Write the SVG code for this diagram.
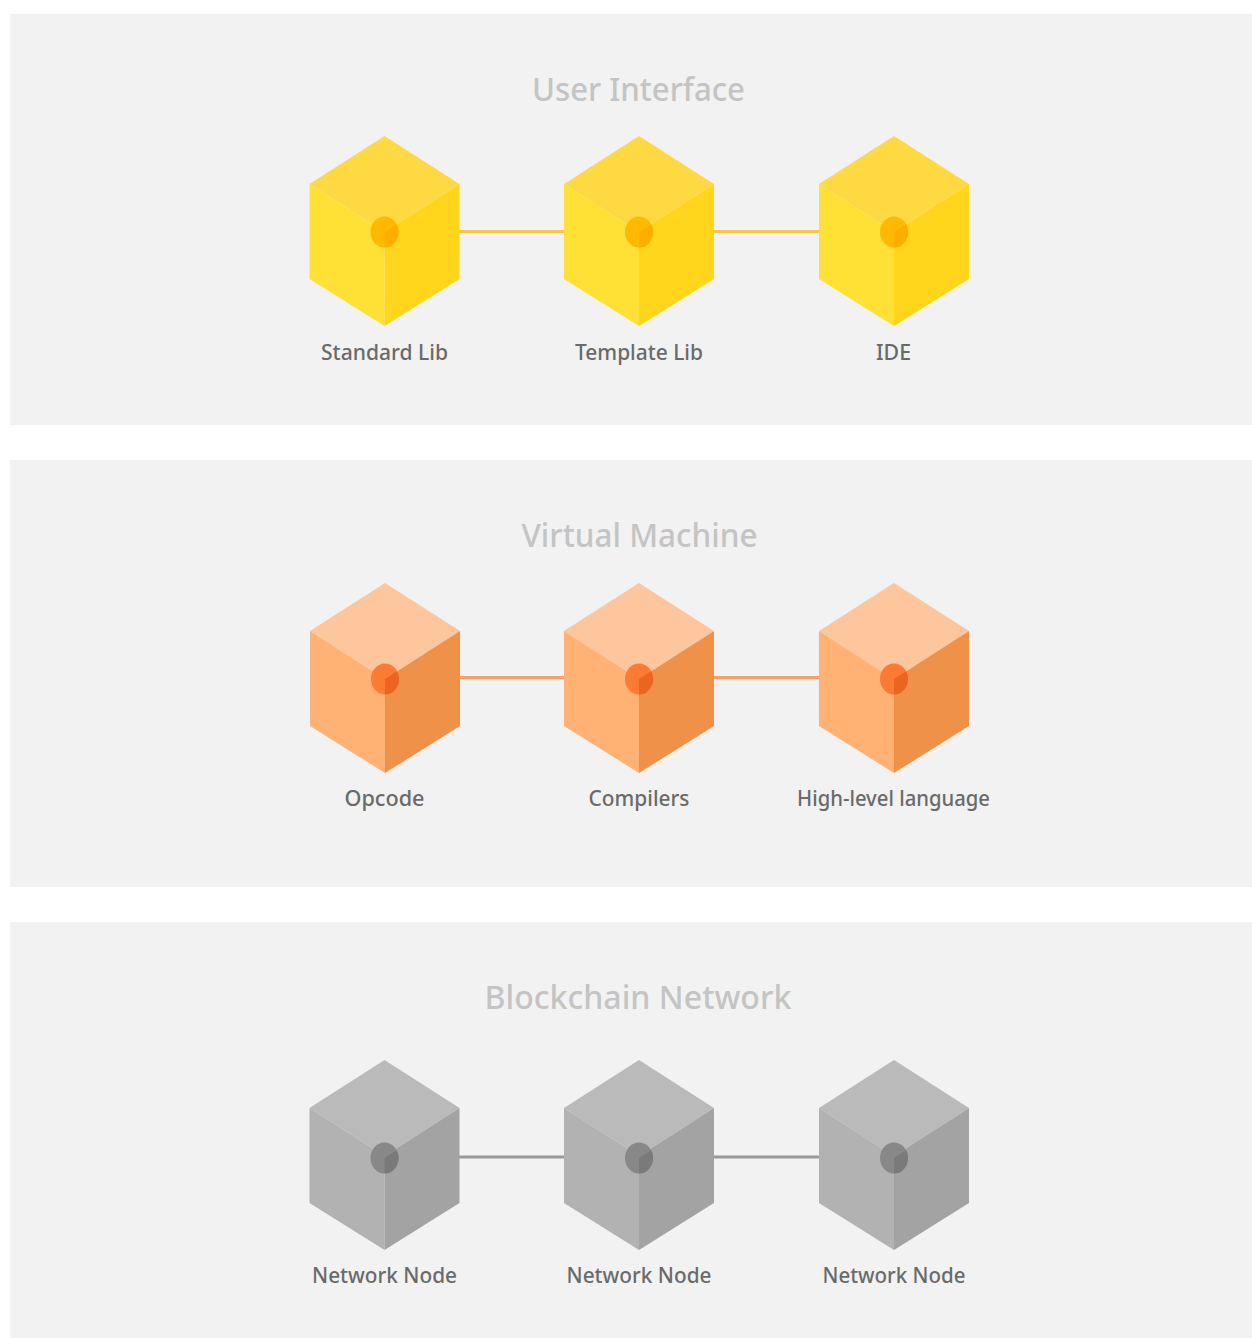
<svg xmlns="http://www.w3.org/2000/svg" width="1252" height="1338" viewBox="0 0 1252 1338">
<style>
.panel{fill:#f2f2f2}
text{font-family:"Noto Sans","Liberation Sans",sans-serif;text-anchor:middle}
.title{font-size:32px;fill:#c4c4c4;font-weight:500}
.label{font-size:21px;fill:#6a6a6a;font-weight:500}
.conn{fill:none;stroke-width:3}
.y .t{fill:#ffd942}.y .l{fill:#ffe135}.y .r{fill:#ffd61c}.y .c{fill:#ffb900}.y .w{fill:#ffae00}
.o .t{fill:#fec69d}.o .l{fill:#ffb274}.o .r{fill:#ef9149}.o .c{fill:#fd7a33}.o .w{fill:#ec6520}
.g .t{fill:#bababa}.g .l{fill:#b2b2b2}.g .r{fill:#a3a3a3}.g .c{fill:#888}.g .w{fill:#7a7a7a}
</style>
<defs>
<path id="ft" d="M0-96 75-48 0 0-75-48Z"/>
<path id="fl" d="M-75-48 0 0V94L-75 47Z"/>
<path id="fr" d="M75-48 0 0V94L75 47Z"/>
<ellipse id="dot" cx="0" cy="0" rx="14" ry="15.5"/>
<path id="wedge" d="M0 0V15.5A14 15.5 0 0 0 12.1-7.8Z"/>
</defs>
<rect class="panel" x="10" y="14" width="1242" height="411"/>
<rect class="panel" x="10" y="460" width="1242" height="427"/>
<rect class="panel" x="10" y="922" width="1242" height="416"/>
<text class="title" x="638.500" y="101" textLength="213" lengthAdjust="spacingAndGlyphs">User Interface</text>
<text class="title" x="639.500" y="547" textLength="236" lengthAdjust="spacingAndGlyphs">Virtual Machine</text>
<text class="title" x="638" y="1009" textLength="307" lengthAdjust="spacingAndGlyphs">Blockchain Network</text>
<g id="connectors">
<path class="conn" stroke="#f7c64a" d="M459 231.500H565M714 231.500H820"/>
<path class="conn" stroke="#f8a06c" d="M460 677.500H564M714 677.500H820"/>
<path class="conn" stroke="#9a9a9a" d="M459 1157H565M714 1157H820"/>
</g>
<g id="node-standard-lib" class="y"><g transform="translate(384.500 232)"><use href="#ft" class="t"/><use href="#fl" class="l"/><use href="#fr" class="r"/><use href="#dot" class="c"/><use href="#wedge" class="w"/></g><text class="label" x="384.500" y="360" textLength="127" lengthAdjust="spacingAndGlyphs">Standard Lib</text></g>
<g id="node-template-lib" class="y"><g transform="translate(639 232)"><use href="#ft" class="t"/><use href="#fl" class="l"/><use href="#fr" class="r"/><use href="#dot" class="c"/><use href="#wedge" class="w"/></g><text class="label" x="639" y="360" textLength="128" lengthAdjust="spacingAndGlyphs">Template Lib</text></g>
<g id="node-ide" class="y"><g transform="translate(894 232)"><use href="#ft" class="t"/><use href="#fl" class="l"/><use href="#fr" class="r"/><use href="#dot" class="c"/><use href="#wedge" class="w"/></g><text class="label" x="893.500" y="360" textLength="35" lengthAdjust="spacingAndGlyphs">IDE</text></g>
<g id="node-opcode" class="o"><g transform="translate(385 679)"><use href="#ft" class="t"/><use href="#fl" class="l"/><use href="#fr" class="r"/><use href="#dot" class="c"/><use href="#wedge" class="w"/></g><text class="label" x="384.500" y="806" textLength="80" lengthAdjust="spacingAndGlyphs">Opcode</text></g>
<g id="node-compilers" class="o"><g transform="translate(639 679)"><use href="#ft" class="t"/><use href="#fl" class="l"/><use href="#fr" class="r"/><use href="#dot" class="c"/><use href="#wedge" class="w"/></g><text class="label" x="639" y="806" textLength="101" lengthAdjust="spacingAndGlyphs">Compilers</text></g>
<g id="node-high-level-language" class="o"><g transform="translate(894 679)"><use href="#ft" class="t"/><use href="#fl" class="l"/><use href="#fr" class="r"/><use href="#dot" class="c"/><use href="#wedge" class="w"/></g><text class="label" x="893.500" y="806" textLength="193" lengthAdjust="spacingAndGlyphs">High-level language</text></g>
<g id="node-network-1" class="g"><g transform="translate(384.500 1156)"><use href="#ft" class="t"/><use href="#fl" class="l"/><use href="#fr" class="r"/><g transform="translate(0 2)"><use href="#dot" class="c"/><use href="#wedge" class="w"/></g></g><text class="label" x="384.500" y="1283" textLength="145" lengthAdjust="spacingAndGlyphs">Network Node</text></g>
<g id="node-network-2" class="g"><g transform="translate(639 1156)"><use href="#ft" class="t"/><use href="#fl" class="l"/><use href="#fr" class="r"/><g transform="translate(0 2)"><use href="#dot" class="c"/><use href="#wedge" class="w"/></g></g><text class="label" x="639" y="1283" textLength="145" lengthAdjust="spacingAndGlyphs">Network Node</text></g>
<g id="node-network-3" class="g"><g transform="translate(894 1156)"><use href="#ft" class="t"/><use href="#fl" class="l"/><use href="#fr" class="r"/><g transform="translate(0 2)"><use href="#dot" class="c"/><use href="#wedge" class="w"/></g></g><text class="label" x="894" y="1283" textLength="143" lengthAdjust="spacingAndGlyphs">Network Node</text></g>
</svg>
